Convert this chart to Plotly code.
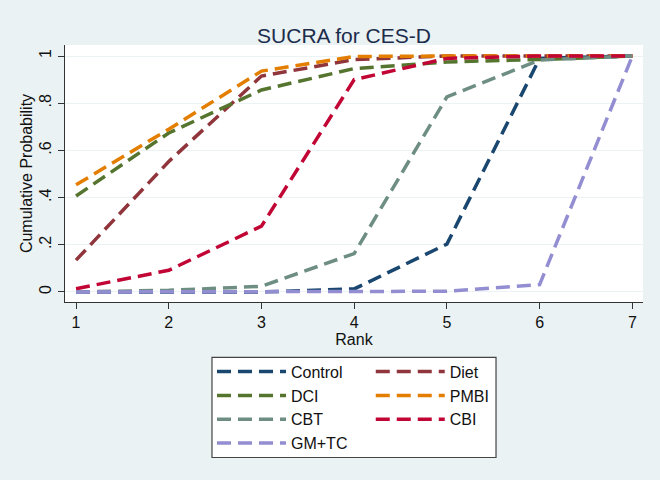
import plotly.graph_objects as go

ranks = [1, 2, 3, 4, 5, 6, 7]
control = [0.0, 0.0, 0.0, 0.013, 0.203, 0.99, 1.0]
diet = [0.135, 0.553, 0.915, 0.985, 1.0, 1.0, 1.0]
dci = [0.407, 0.674, 0.856, 0.947, 0.975, 0.985, 1.0]
pmbi = [0.454, 0.69, 0.936, 0.998, 1.0, 1.0, 1.0]
cbt = [0.0, 0.007, 0.024, 0.163, 0.827, 0.983, 1.0]
cbi = [0.014, 0.092, 0.279, 0.90, 0.99, 1.0, 1.0]
gmtc = [0.0, 0.0, 0.0, 0.0, 0.003, 0.031, 1.0]

y_ticks = [0, 0.2, 0.4, 0.6, 0.8, 1]
y_tick_labels = ["0", ".2", ".4", ".6", ".8", "1"]

series = [
    ("Control", control, "#1A476F", "legend"),
    ("Diet", diet, "#90353B", "legend2"),
    ("DCI", dci, "#55752F", "legend"),
    ("PMBI", pmbi, "#E37E00", "legend2"),
    ("CBT", cbt, "#6E8E84", "legend"),
    ("CBI", cbi, "#C10534", "legend2"),
    ("GM+TC", gmtc, "#938DD2", "legend"),
]

FONT = "Liberation Sans, Arial, sans-serif"
BG = "#EAF2F3"

fig = go.Figure()
for name, vals, color, lg in series:
    fig.add_trace(go.Scatter(
        x=ranks, y=vals, mode="lines", name=name, legend=lg,
        line=dict(color=color, width=3.5, dash="14px,7px"),
    ))

fig.update_layout(
    width=660, height=480,
    margin=dict(l=65, r=17, t=45, b=178),
    paper_bgcolor=BG, plot_bgcolor="white",
    font=dict(family=FONT, size=16, color="#111111"),
    title=dict(text="SUCRA for CES-D", x=0.4827, xref="paper", xanchor="center",
               y=0.925, yref="container", yanchor="middle",
               font=dict(size=21, color="#1C2C4C", family=FONT)),
    xaxis=dict(range=[0.881, 7.115], tickvals=ranks, showgrid=False, zeroline=False,
               showline=True, linecolor="#333333", linewidth=1.3,
               ticks="outside", ticklen=6, tickcolor="#333333",
               title=dict(text="Rank", standoff=0, font=dict(size=16)),
               tickfont=dict(size=16)),
    yaxis=dict(range=[-0.0424, 1.0467], tickvals=y_ticks, ticktext=y_tick_labels,
               tickangle=-90, showgrid=True, gridcolor=BG, gridwidth=1.2,
               zeroline=False, showline=True, linecolor="#333333", linewidth=1.3,
               ticks="outside", ticklen=6, tickcolor="#333333",
               title=dict(text="Cumulative Probability", standoff=0, font=dict(size=16)),
               tickfont=dict(size=16)),
    legend=dict(x=0.2543, y=-0.205, xanchor="left", yanchor="top",
                bgcolor="rgba(0,0,0,0)", font=dict(size=16), itemwidth=69,
                tracegroupgap=0),
    legend2=dict(x=0.529, y=-0.205, xanchor="left", yanchor="top",
                 bgcolor="rgba(0,0,0,0)", font=dict(size=16), itemwidth=69,
                 tracegroupgap=0),
    shapes=[dict(type="rect", xref="paper", yref="paper",
                 x0=0.2543, x1=0.7457, y0=-0.605, y1=-0.2154,
                 line=dict(color="#444444", width=1.2), fillcolor="white",
                 layer="below")],
)

fig.write_html("out.html")
